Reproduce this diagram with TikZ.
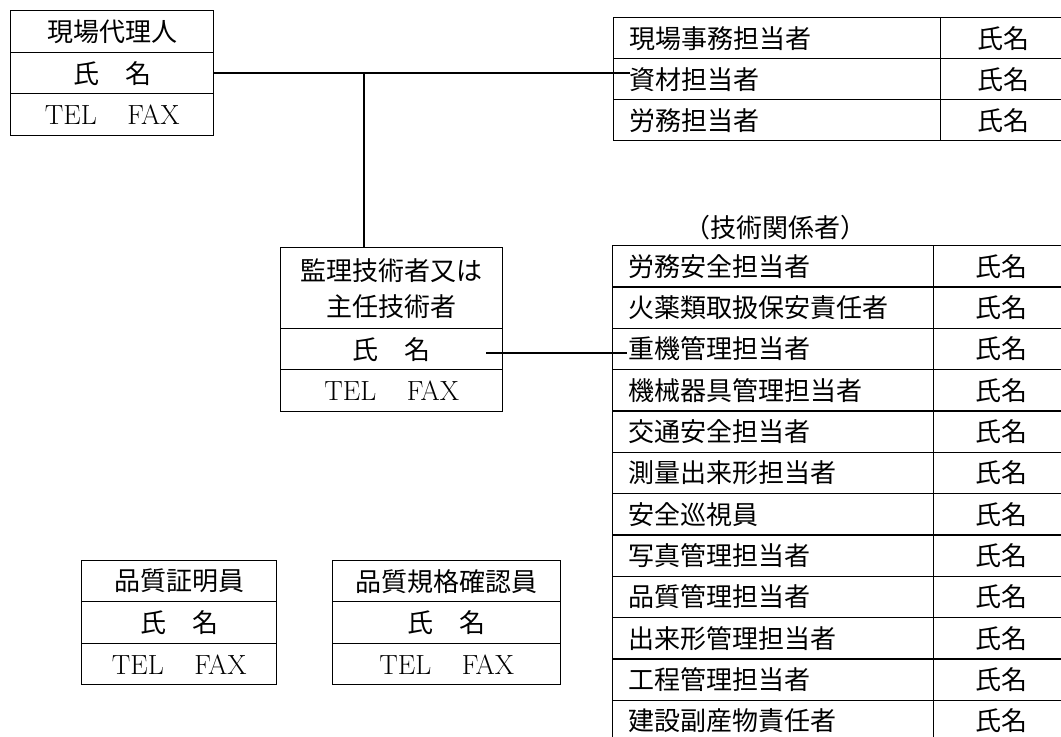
\documentclass[tikz,border=0pt]{standalone}
\usepackage{fontspec}
\newfontfamily\jp{Noto Sans CJK JP}
\newcommand\pxu{0.75pt}
\newcommand\telfax{{\rmfamily\fontsize{20.8}{24}\selectfont TEL\hspace{1.1em}FAX}}
\tikzset{
  cell/.style={draw, line width=1.1pt, anchor=north west, inner sep=0pt, font=\jp\fontsize{19.5}{23}\selectfont},
  lcell/.style={cell, align=left, inner xsep=16*\pxu},
  thinline/.style={line width=0.8pt},
  midline/.style={line width=1.2pt},
  thickline/.style={line width=2.2pt},
  lbl/.style={font=\jp\fontsize{19.5}{23}\selectfont, inner sep=0pt}
}
\begin{document}
\begin{tikzpicture}[x=0.75pt, y=-0.75pt]
\useasboundingbox (0,0) rectangle (1061,737);
\begin{scope}
\clip (0,0) rectangle (1061,737);
% site representative
\node[cell, minimum width=203*\pxu, minimum height=42*\pxu] (rep1) at (10,10) {現場代理人};
\node[cell, minimum width=203*\pxu, minimum height=41*\pxu] (rep2) at (10,52) {氏　名};
\node[cell, minimum width=203*\pxu, minimum height=42*\pxu] (rep3) at (10,93) {\telfax};
% chief engineer
\node[cell, minimum width=222*\pxu, minimum height=81*\pxu, align=center] (mgr1) at (280,247) {監理技術者又は\\[4pt]主任技術者};
\node[cell, minimum width=222*\pxu, minimum height=41*\pxu] (mgr2) at (280,328) {氏　名};
\node[cell, minimum width=222*\pxu, minimum height=42*\pxu] (mgr3) at (280,369) {\telfax};
% quality certifier
\node[cell, minimum width=195*\pxu, minimum height=41*\pxu] (qc1) at (81,560) {品質証明員};
\node[cell, minimum width=195*\pxu, minimum height=42*\pxu] (qc2) at (81,601) {氏　名};
\node[cell, minimum width=195*\pxu, minimum height=41*\pxu] (qc3) at (81,643) {\telfax};
% quality standard checker
\node[cell, minimum width=228*\pxu, minimum height=41*\pxu] (qs1) at (332,560) {品質規格確認員};
\node[cell, minimum width=228*\pxu, minimum height=42*\pxu] (qs2) at (332,601) {氏　名};
\node[cell, minimum width=228*\pxu, minimum height=41*\pxu] (qs3) at (332,643) {\telfax};
% office staff table
\node[lcell, text width=(327-32)*\pxu, minimum height=41*\pxu] (o1) at (613,17) {現場事務担当者};
\node[cell, minimum width=126*\pxu, minimum height=41*\pxu] (o1n) at (940,17) {氏名};
\node[lcell, text width=(327-32)*\pxu, minimum height=41*\pxu] (o2) at (613,58) {資材担当者};
\node[cell, minimum width=126*\pxu, minimum height=41*\pxu] (o2n) at (940,58) {氏名};
\node[lcell, text width=(327-32)*\pxu, minimum height=41*\pxu] (o3) at (613,99) {労務担当者};
\node[cell, minimum width=126*\pxu, minimum height=41*\pxu] (o3n) at (940,99) {氏名};
% technical staff table
\node[lbl] (techlbl) at (775,228) {（技術関係者）};
\foreach \i/\t in {0/労務安全担当者,1/火薬類取扱保安責任者,2/重機管理担当者,3/機械器具管理担当者,4/交通安全担当者,5/測量出来形担当者,6/安全巡視員,7/写真管理担当者,8/品質管理担当者,9/出来形管理担当者,10/工程管理担当者,11/建設副産物責任者}{
  \node[lcell, text width=(321-32)*\pxu, minimum height=41.33*\pxu] (t\i) at (612,245+41.33*\i) {\t};
  \node[cell, minimum width=136*\pxu, minimum height=41.33*\pxu] (t\i n) at (933,245+41.33*\i) {氏名};
}
% connectors
\coordinate (j1) at (364,73);
\coordinate (e1) at (630,73);
\coordinate (s2) at (486,353);
\coordinate (e2) at (627,353);
\draw[thinline] (rep2.east |- j1) -- (e1);
\draw[thickline] (j1) -- (j1 |- mgr1.north);
\draw[midline] (s2) -- (e2);
\end{scope}
\end{tikzpicture}
\end{document}
